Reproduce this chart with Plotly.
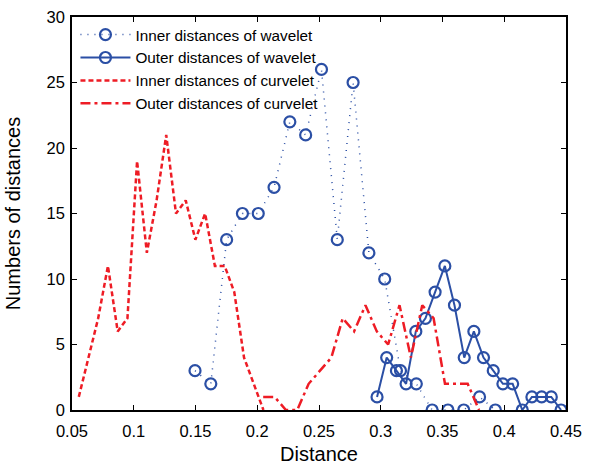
import plotly.graph_objects as go

# Inner distances of wavelet (dotted, open circles)
inner_wav_x = [0.1496, 0.1624, 0.1752, 0.1880, 0.2008, 0.2136, 0.2264, 0.2392, 0.2520, 0.2648,
               0.2776, 0.2904, 0.3032, 0.3160, 0.3288, 0.3416, 0.3544, 0.3672, 0.3800, 0.3928]
inner_wav_y = [3, 2, 13, 15, 15, 17, 22, 21, 26, 13, 25, 12, 10, 3, 2, 0, 0, 0, 1, 0]

# Outer distances of wavelet (solid, open circles)
outer_wav_x = [0.2970, 0.3048, 0.3127, 0.3205, 0.3284, 0.3362, 0.3440, 0.3519, 0.3597, 0.3676,
               0.3754, 0.3832, 0.3911, 0.3989, 0.4068, 0.4146, 0.4224, 0.4303, 0.4381, 0.4460]
outer_wav_y = [1, 4, 3, 2, 6, 7, 9, 11, 8, 4, 6, 4, 3, 2, 2, 0, 1, 1, 1, 0]

# Inner distances of curvelet (dashed)
inner_cur_x = [0.0555, 0.0634, 0.0712, 0.0791, 0.0870, 0.0949, 0.1027, 0.1106, 0.1185, 0.1263,
               0.1342, 0.1421, 0.1499, 0.1578, 0.1657, 0.1736, 0.1814, 0.1893, 0.1972, 0.2050]
inner_cur_y = [1, 4, 7, 11, 6, 7, 19, 12, 16, 21, 15, 16, 13, 15, 11, 11, 9, 4, 2, 0]

# Outer distances of curvelet (dash-dot)
outer_cur_x = [0.2048, 0.2140, 0.2232, 0.2324, 0.2416, 0.2508, 0.2600, 0.2692, 0.2784, 0.2876,
               0.2968, 0.3060, 0.3152, 0.3244, 0.3336, 0.3428, 0.3520, 0.3612, 0.3704, 0.3796]
outer_cur_y = [1, 1, 0, 0, 2, 3, 4, 7, 6, 8, 6, 5, 8, 4, 8, 7, 2, 2, 2, 0]

x_ticks = [0.05, 0.1, 0.15, 0.2, 0.25, 0.3, 0.35, 0.4, 0.45]
x_tick_labels = ["0.05", "0.1", "0.15", "0.2", "0.25", "0.3", "0.35", "0.4", "0.45"]
y_ticks = [0, 5, 10, 15, 20, 25, 30]

BLUE = "#2B4FA5"
RED = "#EE1C25"
FONT = "Arial, Liberation Sans, sans-serif"

fig = go.Figure()
fig.add_trace(go.Scatter(
    x=inner_wav_x, y=inner_wav_y, mode="lines+markers", name="Inner distances of wavelet",
    line=dict(color=BLUE, width=1.5, dash="1px,6px"),
    marker=dict(symbol="circle-open", size=11, color=BLUE, line=dict(width=2.2, color=BLUE)),
))
fig.add_trace(go.Scatter(
    x=outer_wav_x, y=outer_wav_y, mode="lines+markers", name="Outer distances of wavelet",
    line=dict(color=BLUE, width=2),
    marker=dict(symbol="circle-open", size=11, color=BLUE, line=dict(width=2.2, color=BLUE)),
))
fig.add_trace(go.Scatter(
    x=inner_cur_x, y=inner_cur_y, mode="lines", name="Inner distances of curvelet",
    line=dict(color=RED, width=2.5, dash="5px,3px"),
))
fig.add_trace(go.Scatter(
    x=outer_cur_x, y=outer_cur_y, mode="lines", name="Outer distances of curvelet",
    line=dict(color=RED, width=2.5, dash="10px,4px,3px,4px"),
))

axis_common = dict(
    showline=True, linecolor="black", linewidth=1.5, mirror="ticks",
    ticks="inside", ticklen=5, tickwidth=1.2, tickcolor="black",
    showgrid=False, zeroline=False, automargin=False,
    tickfont=dict(family=FONT, size=16.5, color="black"),
)

fig.update_layout(
    width=589, height=465,
    margin=dict(l=72, r=23, t=17, b=55),
    paper_bgcolor="white", plot_bgcolor="white",
    font=dict(family=FONT, size=15, color="black"),
    showlegend=True,
    legend=dict(x=0.007, y=0.997, xanchor="left", yanchor="top",
                bgcolor="rgba(0,0,0,0)", borderwidth=0, itemwidth=50,
                font=dict(family=FONT, size=15.3, color="black"),
                tracegroupgap=0),
    xaxis=dict(range=[0.05, 0.45], tickvals=x_ticks, ticktext=x_tick_labels, ticklabelstandoff=5,
               title=dict(text="Distance", font=dict(family=FONT, size=20, color="black"), standoff=9),
               **axis_common),
    yaxis=dict(range=[0, 30], tickvals=y_ticks, ticklabelstandoff=2,
               title=dict(text="Numbers of distances", font=dict(family=FONT, size=20, color="black"), standoff=21),
               **axis_common),
)

fig.write_html("out.html", config={"displayModeBar": False},
               post_script="document.body.style.margin='0';document.body.style.padding='0';")
